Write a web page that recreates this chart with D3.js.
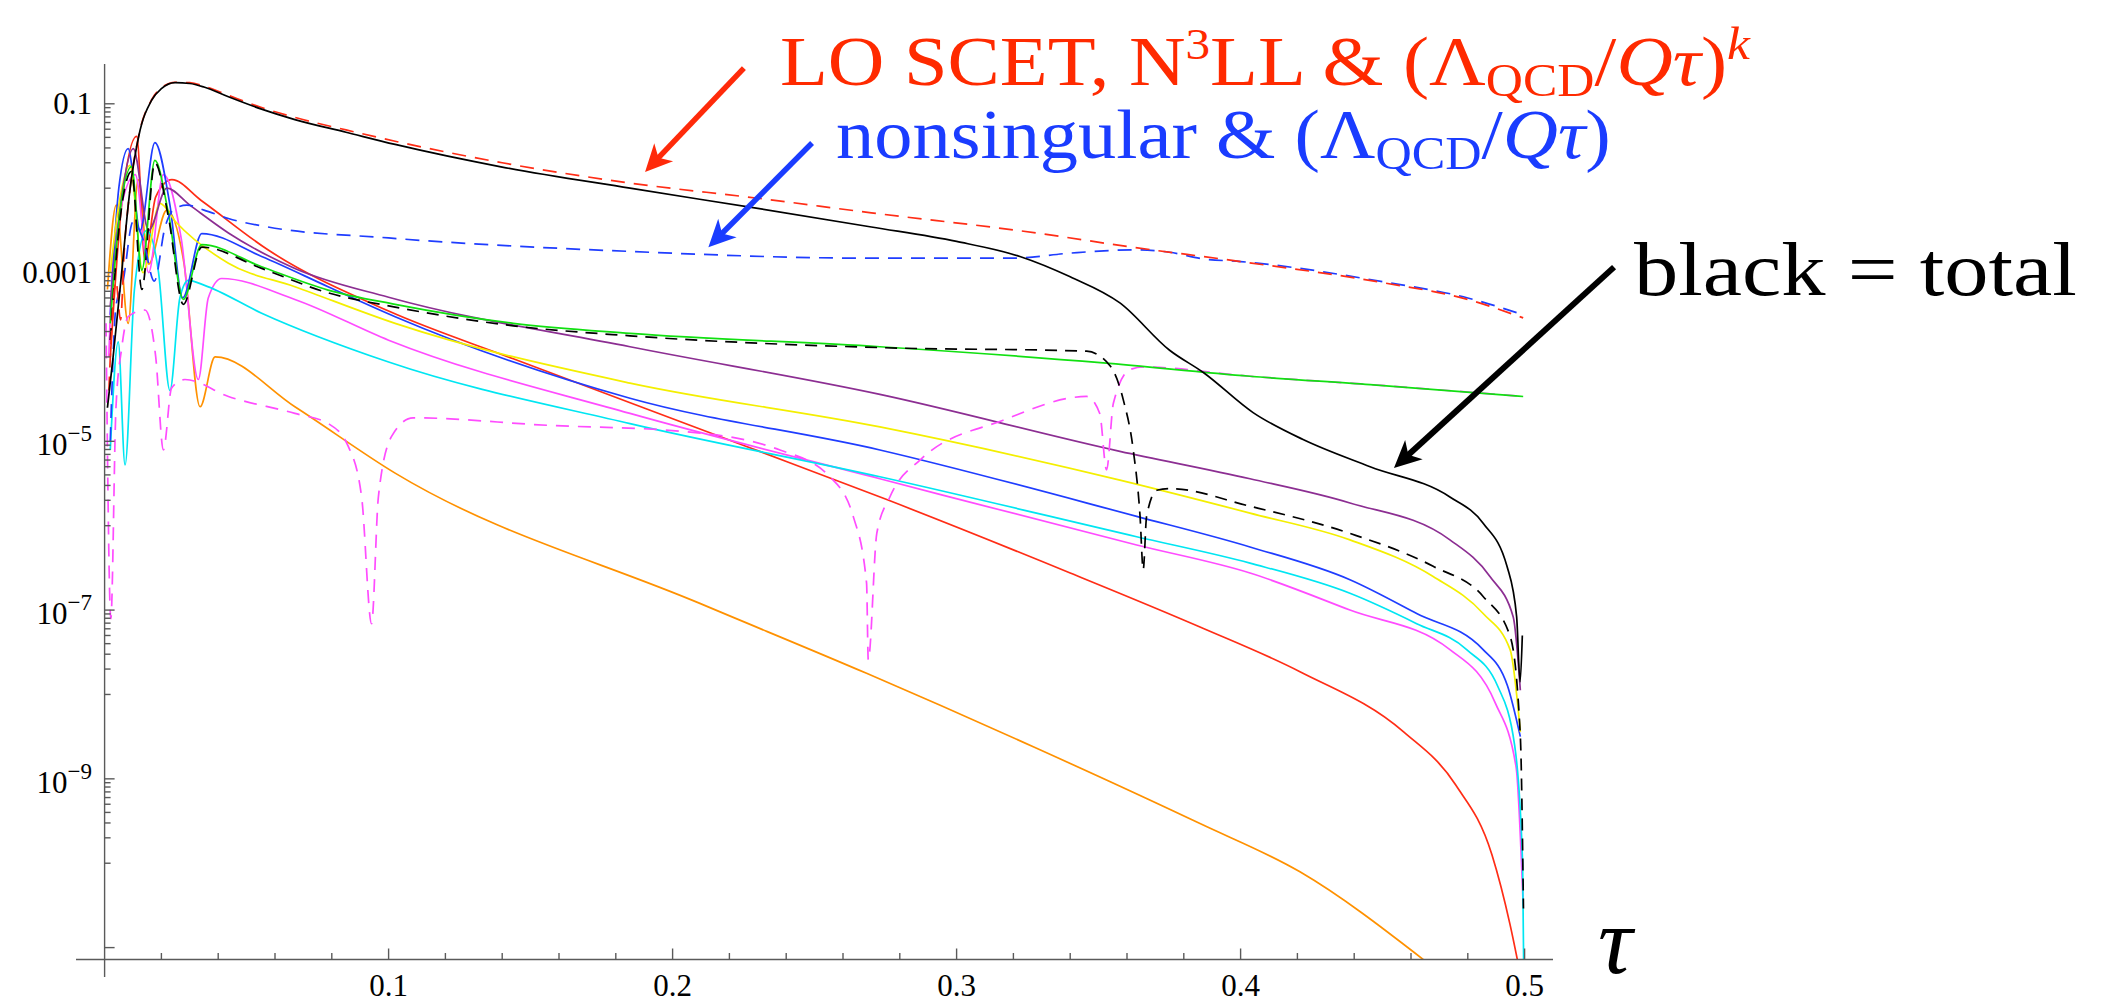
<!DOCTYPE html>
<html>
<head>
<meta charset="utf-8">
<title>Thrust distribution: singular, nonsingular and power corrections</title>
<script src="https://d3js.org/d3.v7.min.js"></script>
<style>
  body { margin:0; background:#fff; }
  svg { display:block; }
</style>
</head>
<body>
<script>
// values, [tau, value]
var totalSolid = [[0.001,2.5e-5],[0.003,1e-4],[0.006,1e-3],[0.009,1e-2],[0.012,4.1e-2],[0.0166,1.11e-1],[0.02,1.51e-1],[0.0248,1.78e-1],[0.03,1.74e-1],[0.035,1.58e-1],[0.0436,1.21e-1],[0.055,8.7e-2],[0.067,6.5e-2],[0.085,4.6e-2],[0.1023,3.3e-2],[0.14,1.78e-2],[0.185,1.0e-2],[0.23,5.75e-3],[0.27,3.47e-3],[0.3,2.34e-3],[0.3223,1.55e-3],[0.34,8.9e-4],[0.3575,4.37e-4],[0.375,1.2e-4],[0.387,6.5e-5],[0.4044,2.19e-5],[0.422,1.05e-5],[0.4456,5.0e-6],[0.4737,2.19e-6],[0.4854,1.07e-6],[0.4938,3.3e-7],[0.4972,8.3e-8],[0.4984,1.41e-8],[0.4992,5.0e-8]];
var loScetDashed = [[0.0015,4.0e-5],[0.004,7.9e-4],[0.0056,2.75e-4],[0.007,2.0e-3],[0.009,1e-2],[0.012,4.2e-2],[0.0166,1.12e-1],[0.02,1.55e-1],[0.0248,1.8e-1],[0.03,1.78e-1],[0.035,1.62e-1],[0.0436,1.26e-1],[0.055,9.1e-2],[0.067,6.9e-2],[0.085,4.9e-2],[0.1023,3.6e-2],[0.14,2.0e-2],[0.185,1.15e-2],[0.23,7.6e-3],[0.27,5.1e-3],[0.328,2.95e-3],[0.36,2.04e-3],[0.4,1.35e-3],[0.45,7.6e-4],[0.48,4.8e-4],[0.4995,2.9e-4]];
var nonsingDashed = [[0.002,1.0e-5],[0.004,4.0e-4],[0.0065,7.9e-4],[0.01,4.0e-3],[0.0135,2.5e-3],[0.0175,7.9e-4],[0.0213,3.47e-3],[0.0248,5.75e-3],[0.029,6.3e-3],[0.035,5.5e-3],[0.0436,4.37e-3],[0.0575,3.47e-3],[0.1,2.57e-3],[0.185,1.78e-3],[0.27,1.48e-3],[0.32,1.48e-3],[0.34,1.7e-3],[0.363,1.86e-3],[0.375,1.74e-3],[0.387,1.45e-3],[0.4,1.35e-3],[0.45,7.8e-4],[0.48,5.0e-4],[0.4995,3.16e-4]];
var greenSolid = [[0.002,2.5e-4],[0.005,4.0e-3],[0.0095,1.8e-2],[0.0131,1.07e-3],[0.0177,2.14e-2],[0.0225,5.0e-3],[0.0277,4.8e-4],[0.0342,2.14e-3],[0.0553,1.17e-3],[0.0787,6.2e-4],[0.1023,4.2e-4],[0.1439,2.5e-4],[0.185,1.9e-4],[0.273,1.32e-4],[0.3516,8.5e-5],[0.4033,5.9e-5],[0.4456,4.7e-5],[0.4995,3.4e-5]];
var blackDashed = [[0.002,1.58e-4],[0.005,3.16e-3],[0.0095,1.58e-2],[0.0131,6.3e-4],[0.0177,2.0e-2],[0.0225,4.5e-3],[0.0277,4.2e-4],[0.0342,2.0e-3],[0.0553,1.12e-3],[0.0787,5.75e-4],[0.1023,3.9e-4],[0.1439,2.34e-4],[0.185,1.78e-4],[0.273,1.29e-4],[0.3458,1.17e-4],[0.3541,7.8e-5],[0.3587,3.1e-5],[0.3622,7.9e-6],[0.3646,1.29e-6],[0.3657,3.0e-7],[0.3669,1.29e-6],[0.3705,2.63e-6],[0.3751,2.75e-6],[0.4033,1.7e-6],[0.4385,8.1e-7],[0.4678,3.3e-7],[0.4854,1.45e-7],[0.4949,4.9e-8],[0.4985,3.2e-9],[0.4996,2.9e-11]];
var purpleSolid = [[0.002,4.0e-4],[0.006,7.9e-3],[0.0101,2.95e-2],[0.0155,3.16e-3],[0.0219,1.0e-2],[0.03,6.3e-3],[0.0436,2.95e-3],[0.067,1.12e-3],[0.1,5.1e-4],[0.185,1.32e-4],[0.273,3.6e-5],[0.3575,7.6e-6],[0.4033,3.6e-6],[0.4385,1.86e-6],[0.4737,6.8e-7],[0.4878,2.5e-7],[0.496,8.3e-8],[0.4985,1.12e-8]];
var yellowSolid = [[0.002,1.0e-3],[0.005,6.3e-3],[0.0089,1.86e-2],[0.0135,1.0e-3],[0.0195,6.6e-3],[0.025,4.0e-3],[0.0436,1.29e-3],[0.067,6.8e-4],[0.1023,2.5e-4],[0.185,4.9e-5],[0.273,1.48e-5],[0.3575,3.47e-6],[0.4033,1.41e-6],[0.4385,6.8e-7],[0.4678,2.5e-7],[0.4854,9.1e-8],[0.4949,3.4e-8],[0.4985,3.6e-9]];
var blueSolid = [[0.002,3.16e-4],[0.005,1.0e-2],[0.0083,2.95e-2],[0.0125,3.16e-3],[0.0177,3.47e-2],[0.023,6.3e-3],[0.0275,5.0e-4],[0.0342,2.9e-3],[0.0553,1.55e-3],[0.0787,6.8e-4],[0.1023,3.0e-4],[0.185,3.24e-5],[0.273,7.9e-6],[0.3634,1.29e-6],[0.4033,5.6e-7],[0.4385,2.29e-7],[0.462,9.1e-8],[0.4854,3.4e-8],[0.494,1.26e-8],[0.4985,3.16e-9]];
var cyanSolid = [[0.002,7.9e-6],[0.0048,1.51e-4],[0.0072,5.25e-6],[0.0105,6.3e-4],[0.0148,3.16e-3],[0.019,1.0e-3],[0.023,4.0e-5],[0.0265,5.0e-4],[0.0295,8.1e-4],[0.035,7.1e-4],[0.0553,3.3e-4],[0.1,8.7e-5],[0.185,1.62e-5],[0.273,3.8e-6],[0.3634,7.4e-7],[0.4033,3.6e-7],[0.4385,1.58e-7],[0.462,6.9e-8],[0.4796,3.4e-8],[0.4905,1.26e-8],[0.4965,2.5e-9],[0.4993,1.0e-10],[0.4997,5.0e-12]];
var magentaSolid = [[0.0015,1.0e-4],[0.0031,1.7e-3],[0.0108,1.45e-2],[0.0155,1.0e-3],[0.0207,1.45e-2],[0.027,2.5e-3],[0.033,5.4e-5],[0.0365,5.0e-4],[0.0412,8.5e-4],[0.067,4.8e-4],[0.1,1.58e-4],[0.185,2.14e-5],[0.273,3.6e-6],[0.3634,5.9e-7],[0.4033,2.75e-7],[0.4385,1.0e-7],[0.4737,3.4e-8],[0.4897,7.9e-9],[0.497,1.38e-9],[0.4995,3.16e-11]];
var redSolid = [[0.002,1.0e-4],[0.006,6.3e-3],[0.0113,4.1e-2],[0.0142,1.41e-3],[0.018,7.9e-3],[0.0237,1.26e-2],[0.0339,7.2e-3],[0.0575,1.86e-3],[0.1,3.5e-4],[0.1439,9.5e-5],[0.226,8.7e-6],[0.2754,2.04e-6],[0.34,2.75e-7],[0.3857,6.3e-8],[0.4209,1.86e-8],[0.4574,3.6e-9],[0.4757,8.5e-10],[0.4885,1.26e-10],[0.4949,1.86e-11],[0.4984,5.0e-12]];
var orangeSolid = [[0.001,6.3e-4],[0.0041,6.3e-3],[0.0083,2.5e-4],[0.0118,1.26e-2],[0.0155,1.26e-3],[0.0219,5.5e-3],[0.028,1.26e-3],[0.0336,2.57e-5],[0.0389,1.0e-4],[0.067,2.57e-5],[0.1023,4.2e-6],[0.2096,1.2e-7],[0.2683,1.78e-8],[0.327,2.4e-9],[0.3857,2.95e-10],[0.4209,7.9e-11],[0.4646,7.1e-12]];
var magentaDashed = [[0.0005,2.5e-4],[0.0022,7.9e-8],[0.004,2.5e-5],[0.006,1.26e-4],[0.0083,3.0e-4],[0.0142,3.6e-4],[0.018,1.0e-4],[0.0207,7.9e-6],[0.0236,4.3e-5],[0.0283,5.4e-5],[0.0436,3.4e-5],[0.067,2.14e-5],[0.0788,1.62e-5],[0.0858,8.7e-6],[0.0905,2.19e-6],[0.094,6.9e-8],[0.0964,2.19e-6],[0.1011,1.15e-5],[0.1086,1.9e-5],[0.1557,1.55e-5],[0.2026,1.32e-5],[0.2378,7.9e-6],[0.2554,3.8e-6],[0.2636,1.29e-6],[0.2683,2.09e-7],[0.2689,2.57e-8],[0.2719,8.1e-7],[0.2765,2.19e-6],[0.2871,6.0e-6],[0.3164,1.78e-5],[0.3458,3.4e-5],[0.3504,2.14e-5],[0.3528,4.6e-6],[0.3552,2.82e-5],[0.3611,7.1e-5],[0.3657,7.6e-5],[0.4033,5.9e-5],[0.4456,4.7e-5],[0.4995,3.4e-5]];

var xTickValues = [0.1, 0.2, 0.3, 0.4, 0.5];
var xTickText = ["0.1", "0.2", "0.3", "0.4", "0.5"];
var xMinorTicks = [0.02,0.04,0.06,0.08,0.12,0.14,0.16,0.18,0.22,0.24,0.26,0.28,0.32,0.34,0.36,0.38,0.42,0.44,0.46,0.48];
var yTickValues = [1e-1, 1e-3, 1e-5, 1e-7, 1e-9];
var yTickText = ["0.1", "0.001", "10^\u22125", "10^\u22127", "10^\u22129"];

var width = 2113, height = 1002;
var svg = d3.select("body").append("svg")
    .attr("xmlns", "http://www.w3.org/2000/svg")
    .attr("width", width)
    .attr("height", height);

var x = d3.scaleLinear().domain([0, 0.5]).range([104.6, 1524.6]);
var y = d3.scaleLog().domain([1e-11, 1e-1]).range([947.6, 103.8]);

var axisCol = "#5a5a5a";
var axisY0 = 959.5;

svg.append("clipPath").attr("id", "plotclip")
  .append("rect").attr("x", 76).attr("y", 30).attr("width", 1477).attr("height", axisY0 - 30);

// curves
var series = [
  {data: orangeSolid,  color: "#ff9100", dash: null},
  {data: redSolid,     color: "#ff2d16", dash: null},
  {data: magentaSolid, color: "#ff4cff", dash: null},
  {data: cyanSolid,    color: "#00e6f2", dash: null},
  {data: blueSolid,    color: "#1f3dff", dash: null},
  {data: yellowSolid,  color: "#f4ef00", dash: null},
  {data: purpleSolid,  color: "#8c2e92", dash: null},
  {data: magentaDashed,color: "#ff4cff", dash: "13,9"},
  {data: greenSolid,   color: "#11e011", dash: null},
  {data: blackDashed,  color: "#000000", dash: "12,8"},
  {data: nonsingDashed,color: "#1f3dff", dash: "14,9"},
  {data: loScetDashed, color: "#ff2d16", dash: "14,9"},
  {data: totalSolid,   color: "#000000", dash: null}
];

var line = d3.line()
    .x(function(d){ return x(d[0]); })
    .y(function(d){ return y(d[1]); })
    .curve(d3.curveMonotoneX);

svg.append("g").attr("clip-path", "url(#plotclip)")
  .selectAll("path.curve")
  .data(series)
  .enter()
    .append("path")
    .attr("class", "curve")
    .attr("fill", "none")
    .attr("stroke", function(d){ return d.color; })
    .attr("stroke-width", 1.7)
    .attr("stroke-dasharray", function(d){ return d.dash; })
    .attr("d", function(d){ return line(d.data); });

// axes, Mathematica style (ticks inside)
var axes = svg.append("g").attr("stroke", axisCol).attr("stroke-width", 1.4);
axes.append("line").attr("x1", 76).attr("x2", 1553).attr("y1", axisY0).attr("y2", axisY0);
axes.append("line").attr("x1", x(0)).attr("x2", x(0)).attr("y1", 64).attr("y2", 977);

axes.selectAll("line.xmaj").data(xTickValues).enter().append("line")
  .attr("x1", function(d){ return x(d); }).attr("x2", function(d){ return x(d); })
  .attr("y1", axisY0).attr("y2", axisY0 - 11);
axes.selectAll("line.xmin").data(xMinorTicks).enter().append("line")
  .attr("x1", function(d){ return x(d); }).attr("x2", function(d){ return x(d); })
  .attr("y1", axisY0).attr("y2", axisY0 - 6.5);

var yMinor = [];
yTickValues.forEach(function(v){
  for (var k = 1; k <= 9; k++) yMinor.push(k * v / 10);
});
axes.selectAll("line.ymaj").data(yTickValues.concat([1e-11])).enter().append("line")
  .attr("x1", x(0)).attr("x2", x(0) + 10)
  .attr("y1", function(d){ return y(d); }).attr("y2", function(d){ return y(d); });
axes.selectAll("line.ymin").data(yMinor).enter().append("line")
  .attr("x1", x(0)).attr("x2", x(0) + 6)
  .attr("y1", function(d){ return y(d); }).attr("y2", function(d){ return y(d); });

// tick labels
var serif = "'Liberation Serif', 'Times New Roman', serif";
svg.selectAll("text.xlab").data(xTickValues).enter().append("text")
  .attr("x", function(d){ return x(d); })
  .attr("y", 996)
  .attr("text-anchor", "middle")
  .style("font-family", serif).attr("font-size", 31)
  .text(function(d, i){ return xTickText[i]; });

yTickValues.forEach(function(v, i){
  var parts = yTickText[i].split("^");
  var t = svg.append("text")
      .attr("x", 92)
      .attr("text-anchor", "end")
      .style("font-family", serif).attr("font-size", 31);
  if (parts.length == 1) {
    t.attr("y", y(v) + 10).text(parts[0]);
  } else {
    t.attr("y", y(v) + 14);
    t.append("tspan").text(parts[0]);
    t.append("tspan").attr("font-size", 23).attr("dy", -14).text(parts[1]);
  }
});

// tau label
svg.append("text")
  .attr("x", 1598).attr("y", 973)
  .style("font-family", serif).attr("font-style", "italic").attr("font-size", 96)
  .text("\u03c4");

// arrows (tail and tip in data coordinates)
function arrow(t0, v0, t1, v1, col, w) {
  var x0 = x(t0), y0 = y(v0), x1 = x(t1), y1 = y(v1);
  var dx = x1 - x0, dy = y1 - y0, len = Math.sqrt(dx*dx + dy*dy);
  var ux = dx/len, uy = dy/len, nx = -uy, ny = ux;
  var hl = 27, hw = 13;
  svg.append("line")
    .attr("x1", x0).attr("y1", y0)
    .attr("x2", x1 - ux*hl*0.7).attr("y2", y1 - uy*hl*0.7)
    .attr("stroke", col).attr("stroke-width", w);
  var pts = [[x1, y1],
             [x1 - ux*hl + nx*hw, y1 - uy*hl + ny*hw],
             [x1 - ux*hl*0.72, y1 - uy*hl*0.72],
             [x1 - ux*hl - nx*hw, y1 - uy*hl - ny*hw]];
  svg.append("polygon").attr("points", pts.map(function(p){ return p.join(","); }).join(" "))
    .attr("fill", col);
}
arrow(0.2251, 0.265, 0.1903, 1.56e-2, "#ff2a0a", 5.5);
arrow(0.2491, 3.43e-2, 0.2126, 2.0e-3, "#1a3cff", 5.5);
arrow(0.5315, 1.16e-3, 0.454, 4.84e-6, "#000000", 6);

// annotation texts, stretched to the width of the TeX originals
function fitText(g, x0, x1, base) {
  var t = g.select("text");
  var w = t.node().getComputedTextLength();
  g.attr("transform", "translate(" + x0 + "," + base + ") scale(" + ((x1 - x0) / w) + ",1)");
}

var redG = svg.append("g");
var rt = redG.append("text").style("font-family", serif).attr("font-size", 70).attr("fill", "#ff2a00");
rt.append("tspan").text("LO SCET, N");
rt.append("tspan").attr("font-size", 44).attr("dy", -26).text("3");
rt.append("tspan").attr("dy", 26).text("LL & (\u039b");
rt.append("tspan").attr("font-size", 46).attr("dy", 11).text("QCD");
rt.append("tspan").attr("dy", -11).text("/");
rt.append("tspan").attr("font-style", "italic").text("Q\u03c4");
rt.append("tspan").text(")");
rt.append("tspan").attr("font-style", "italic").attr("font-size", 46).attr("dy", -26).text("k");
fitText(redG, 780, 1750, 85);

var blueG = svg.append("g");
var bt = blueG.append("text").style("font-family", serif).attr("font-size", 70).attr("fill", "#1a3cff");
bt.append("tspan").text("nonsingular & (\u039b");
bt.append("tspan").attr("font-size", 46).attr("dy", 11).text("QCD");
bt.append("tspan").attr("dy", -11).text("/");
bt.append("tspan").attr("font-style", "italic").text("Q\u03c4");
bt.append("tspan").text(")");
fitText(blueG, 836, 1611, 158);

var blackG = svg.append("g");
blackG.append("text").style("font-family", serif).attr("font-size", 77).attr("fill", "#000")
  .text("black = total");
fitText(blackG, 1634, 2077, 295);
</script>
</body>
</html>
